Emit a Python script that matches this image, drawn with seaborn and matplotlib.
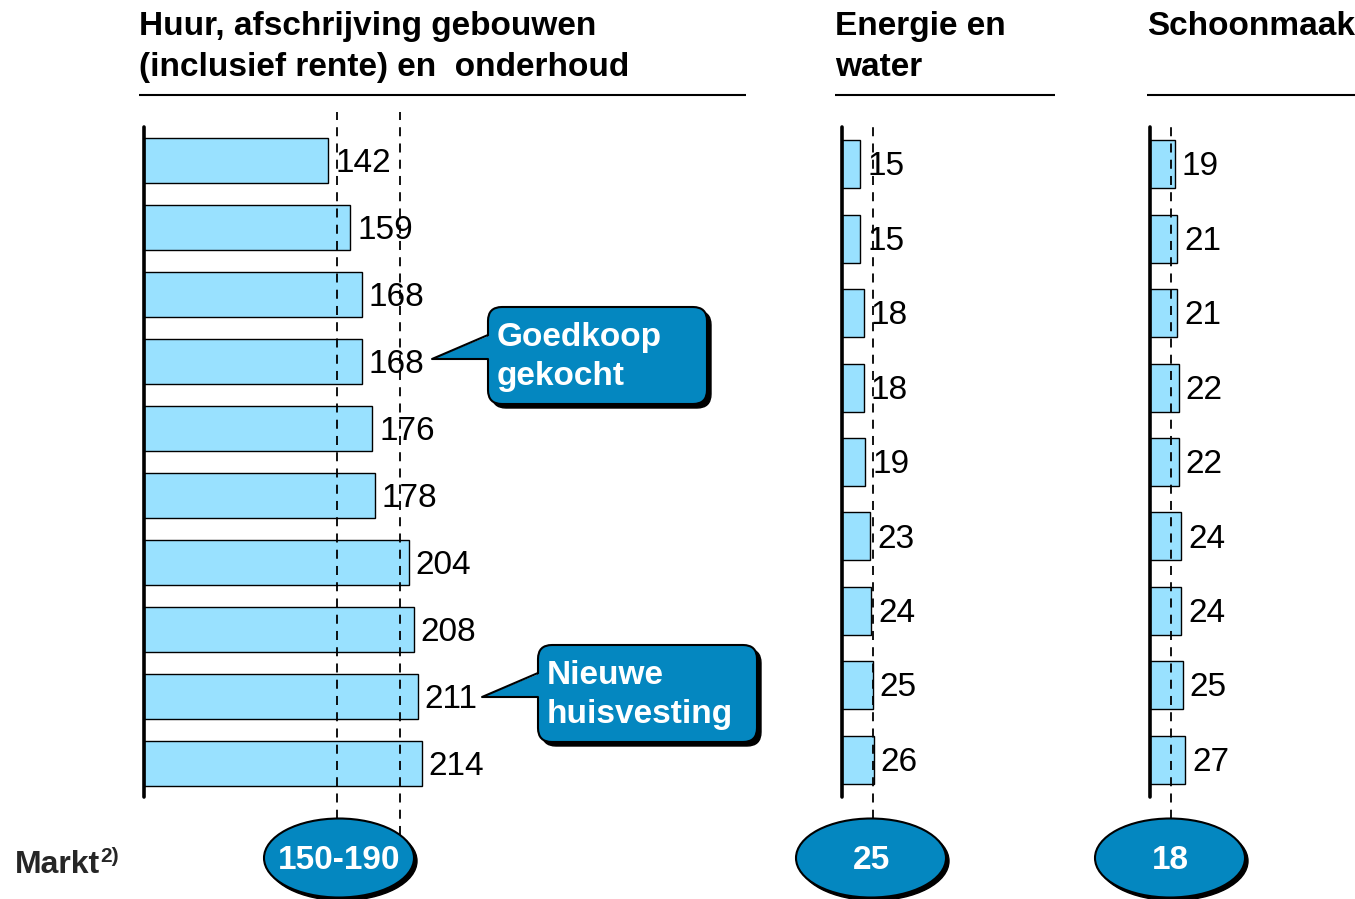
import matplotlib
matplotlib.use('Agg')
import matplotlib.pyplot as plt
import seaborn as sns
import pandas as pd
from matplotlib.patches import Ellipse, FancyBboxPatch, Polygon

# ---------------- data ----------------
huur_values = [142, 159, 168, 168, 176, 178, 204, 208, 211, 214]
energie_values = [15, 15, 18, 18, 19, 23, 24, 25, 26]
schoon_values = [19, 21, 21, 22, 22, 24, 24, 25, 27]
huur_market_lines = [149, 197]
energie_market_lines = [25]
schoon_market_lines = [16]
market_labels = ["150-190", "25", "18"]
panel_titles = [["Huur, afschrijving gebouwen", "(inclusief rente) en  onderhoud"],
                ["Energie en", "water"],
                ["Schoonmaak"]]
callout_texts = [["Goedkoop", "gekocht"], ["Nieuwe", "huisvesting"]]
market_label = "Markt"
market_sup = "2)"

# ---------------- style ----------------
sns.set_theme(style="white")
plt.rcParams['font.family'] = ['Liberation Sans', 'DejaVu Sans']

BAR = "#99E1FF"
DARK = "#0487C0"
W, H = 1355, 899
fig = plt.figure(figsize=(W / 100, H / 100), dpi=100)


def px_axes(left, top, right, bottom, **kw):
    return fig.add_axes([left / W, 1 - bottom / H, (right - left) / W, (bottom - top) / H], **kw)


panels = [
    dict(values=huur_values, lines=huur_market_lines, left=144, right=746, scale=1.297,
         width=0.67, ltop=112, lbot=835),
    dict(values=energie_values, lines=energie_market_lines, left=842, right=1055, scale=1.22,
         width=0.645, ltop=121, lbot=835),
    dict(values=schoon_values, lines=schoon_market_lines, left=1150, right=1355, scale=1.30,
         width=0.645, ltop=121, lbot=835),
]
TOP, BOT = 127, 797

for p in panels:
    ax = px_axes(p['left'], TOP, p['right'], BOT)
    vals = p['values']
    df = pd.DataFrame({'row': [str(i) for i in range(len(vals))], 'value': vals})
    sns.barplot(data=df, x='value', y='row', orient='h', color=BAR, saturation=1,
                edgecolor='black', linewidth=1.0, width=p['width'], ax=ax, zorder=2)
    ax.set_xlim(0, (p['right'] - p['left']) / p['scale'])
    ax.set_ylim(len(vals) - 0.5, -0.5)
    ax.set_axis_off()
    ax.axvline(0, color='black', lw=2.6, solid_capstyle='round', clip_on=False, zorder=4)
    y0 = (BOT - p['lbot']) / (BOT - TOP)
    y1 = (BOT - p['ltop']) / (BOT - TOP)
    ax.vlines(p['lines'], y0, y1, transform=ax.get_xaxis_transform(), colors='black',
              linestyles=(0, (5, 4)), lw=1.3, clip_on=False, zorder=3)
    for i, v in enumerate(vals):
        ax.annotate(str(v), xy=(v, i), xytext=(5, -8), textcoords='offset points',
                    ha='left', va='baseline', fontsize=24, color='black', zorder=5)

# ---------------- overlay (decorations) ----------------
ov = fig.add_axes([0, 0, 1, 1], zorder=10)
ov.set_xlim(0, W)
ov.set_ylim(H, 0)
ov.set_axis_off()

# titles + underlines
title_x = [139, 835, 1147]
under = [(139, 746), (835, 1055), (1147, 1355)]
for tx, lines, (u0, u1) in zip(title_x, panel_titles, under):
    for k, line in enumerate(lines):
        ov.text(tx, 35 + 41 * k, line, fontsize=24, fontweight='bold', ha='left',
                va='baseline', color='black')
    ov.plot([u0, u1], [95, 95], color='black', lw=1.5, solid_capstyle='butt')

# market ellipses
for cx, lab in zip([339, 871, 1170], market_labels):
    ov.add_patch(Ellipse((cx + 3, 861), 150, 79, facecolor='black', edgecolor='black', zorder=1))
    ov.add_patch(Ellipse((cx, 858), 150, 79, facecolor=DARK, edgecolor='black', lw=1.5, zorder=2))
    ov.text(cx, 869, lab, fontsize=24, fontweight='bold', color='white', ha='center',
            va='baseline', zorder=3)

ov.text(15, 873, market_label, fontsize=23, fontweight='bold', ha='left', va='baseline')
ov.text(100, 862, market_sup, fontsize=15, fontweight='bold', ha='left', va='baseline')


# callouts
def callout(x0, y0, x1, y1, tip, wedge_top, wedge_bot, lines, tx):
    r = 14
    ov.add_patch(FancyBboxPatch((x0 + 4, y0 + 4), x1 - x0, y1 - y0,
                                boxstyle=f"round,pad=0,rounding_size={r}",
                                facecolor='black', edgecolor='black', zorder=1))
    ov.add_patch(FancyBboxPatch((x0, y0), x1 - x0, y1 - y0,
                                boxstyle=f"round,pad=0,rounding_size={r}",
                                facecolor=DARK, edgecolor='black', lw=1.5, zorder=2))
    ov.add_patch(Polygon([tip, (x0 + 3, wedge_top), (x0 + 3, wedge_bot)], closed=True,
                         facecolor=DARK, edgecolor='none', zorder=3))
    ov.plot([x0, tip[0], x0], [wedge_top, tip[1], wedge_bot], color='black', lw=1.5, zorder=4)
    for k, line in enumerate(lines):
        ov.text(tx, y0 + 39 + 39 * k, line, fontsize=24, fontweight='bold', color='white',
                ha='left', va='baseline', zorder=5)


callout(488, 307, 707, 404, (432, 359), 335, 359, callout_texts[0], 497)
callout(538, 645, 757, 742, (482, 697), 673, 697, callout_texts[1], 547)

fig.savefig("out.png", dpi=100)
